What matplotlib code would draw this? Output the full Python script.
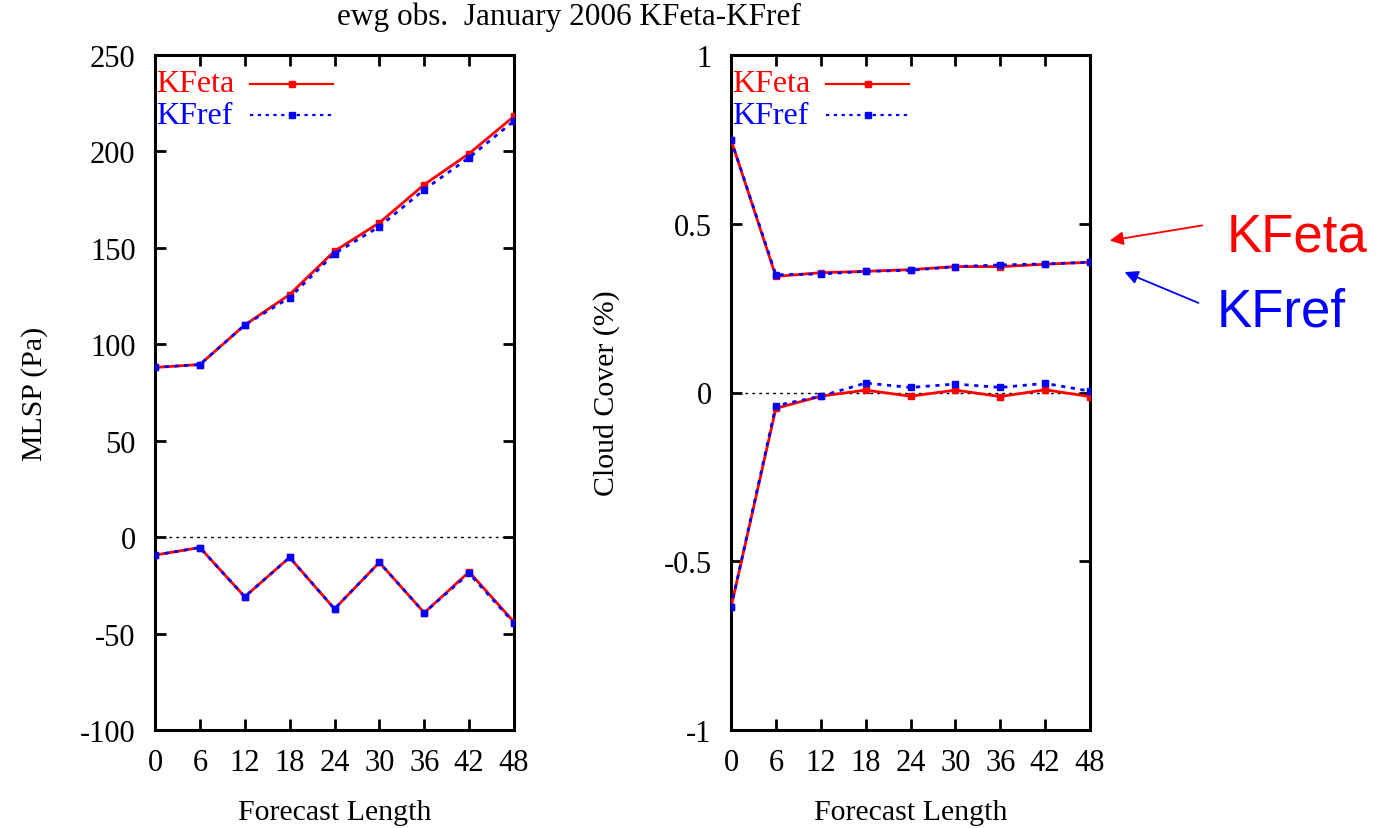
import matplotlib
matplotlib.use("Agg")
import matplotlib.pyplot as plt
from matplotlib.lines import Line2D

plt.rcParams['font.family'] = ['Liberation Serif', 'DejaVu Serif']
plt.rcParams['axes.unicode_minus'] = False

hours = [0, 6, 12, 18, 24, 30, 36, 42, 48]

# Left panel: MLSP (Pa) -- upper curves and lower curves
mlsp_kfeta_upper = [88, 89.5, 110, 125.8, 148.3, 163, 182.8, 198.9, 218.2]
mlsp_kfref_upper = [88, 89.5, 110, 124.2, 147, 161, 180.2, 196.8, 215.8]
mlsp_kfeta_lower = [-9.3, -5.4, -30.9, -10.5, -37.2, -13.1, -39.2, -18.0, -44.0]
mlsp_kfref_lower = [-9.3, -5.4, -30.9, -10.5, -37.2, -13.1, -39.2, -18.8, -44.5]

# Right panel: Cloud cover
cc_kfeta_upper = [0.749, 0.344, 0.355, 0.359, 0.364, 0.373, 0.373, 0.380, 0.386]
cc_kfref_upper = [0.749, 0.349, 0.351, 0.359, 0.362, 0.373, 0.378, 0.381, 0.386]
cc_kfeta_lower = [-0.637, -0.047, -0.011, 0.007, -0.011, 0.007, -0.012, 0.008, -0.012]
cc_kfref_lower = [-0.637, -0.039, -0.011, 0.028, 0.015, 0.025, 0.015, 0.027, 0.004]

title = "ewg obs.  January 2006 KFeta-KFref"
xlabel = "Forecast Length"
ylabel_left = "MLSP (Pa)"
ylabel_right = "Cloud Cover (%)"
left_yticks = [-100, -50, 0, 50, 100, 150, 200, 250]
right_yticks = [-1, -0.5, 0, 0.5, 1]
right_yticklabels = ["-1", "-0.5", "0", "0.5", "1"]
series_names = ["KFeta", "KFref"]

W, H = 1382, 829
fig = plt.figure(figsize=(W / 100, H / 100), dpi=100)

def px_axes(x0, y0, x1, y1):
    return fig.add_axes([x0 / W, 1 - y1 / H, (x1 - x0) / W, (y1 - y0) / H])

axL = px_axes(155, 56, 514, 731)
axR = px_axes(731, 56, 1090, 731)

red = '#ff0000'
blue = '#0000ff'
dot = (0, (1.5, 2))

def draw(ax, eu, ru, el, rl):
    ax.axhline(0, color='black', lw=1.0, ls=(0, (2, 3)), zorder=1)
    ax.plot(hours, eu, color=red, lw=2, marker='s', ms=5, zorder=3)
    ax.plot(hours, ru, color=blue, lw=2, ls=dot, marker='s', ms=5, zorder=4)
    ax.plot(hours, el, color=red, lw=2, marker='s', ms=5, zorder=3)
    ax.plot(hours, rl, color=blue, lw=2, ls=dot, marker='s', ms=5, zorder=4)
    ax.set_xlim(0, 48)
    ax.set_xticks(hours)
    ax.tick_params(axis='both', direction='in', length=8, width=2, top=True, right=True,
                   labelsize=22)
    ax.tick_params(axis='x', pad=13)
    ax.tick_params(axis='y', pad=14)
    for s in ax.spines.values():
        s.set_linewidth(2.2)
    ax.set_xlabel(xlabel, fontsize=21.5, labelpad=16)
    # gnuplot-style key: label then line sample
    tr = ax.transAxes
    ax_w = 359.0
    ax_h = 675.0
    for i, (name, col, ls) in enumerate(zip(series_names, [red, blue], ['-', dot])):
        yc = 1 - (29 + 31 * i) / ax_h
        ax.text(1 / ax_w, yc, name, color=col, fontsize=23, transform=tr,
                ha='left', va='center')
        ax.add_line(Line2D([95 / ax_w, 178 / ax_w], [yc, yc], transform=tr,
                           color=col, lw=1.6, ls=ls))
        ax.add_line(Line2D([137 / ax_w], [yc], transform=tr, color=col,
                           marker='s', ms=4, lw=0))

draw(axL, mlsp_kfeta_upper, mlsp_kfref_upper, mlsp_kfeta_lower, mlsp_kfref_lower)
axL.set_ylim(-100, 250)
axL.set_yticks(left_yticks)
axL.set_ylabel(ylabel_left, fontsize=21.5, labelpad=23)

draw(axR, cc_kfeta_upper, cc_kfref_upper, cc_kfeta_lower, cc_kfref_lower)
axR.set_ylim(-1, 1)
axR.set_yticks(right_yticks)
axR.set_yticklabels(right_yticklabels)
axR.set_ylabel(ylabel_right, fontsize=21.5, labelpad=31)

fig.text(569 / W, 1 - 17 / H, title, ha='center', va='center', fontsize=22.5)

# Annotations on the right
fig.text(1297 / W, 1 - 238 / H, "KFeta", color=red, fontsize=38,
         family=['Liberation Sans', 'DejaVu Sans'], ha='center', va='center')
fig.text(1281 / W, 1 - 313 / H, "KFref", color=blue, fontsize=38,
         family=['Liberation Sans', 'DejaVu Sans'], ha='center', va='center')
fig.add_artist(matplotlib.patches.FancyArrowPatch(
    (1205 / W, 1 - 226 / H), (1107 / W, 1 - 242 / H), transform=fig.transFigure,
    arrowstyle='-|>,head_length=8,head_width=4', color=red, lw=1.3))
fig.add_artist(matplotlib.patches.FancyArrowPatch(
    (1201 / W, 1 - 305 / H), (1122 / W, 1 - 272 / H), transform=fig.transFigure,
    arrowstyle='-|>,head_length=8,head_width=4', color=blue, lw=1.3))

fig.savefig('out.png', dpi=100)
